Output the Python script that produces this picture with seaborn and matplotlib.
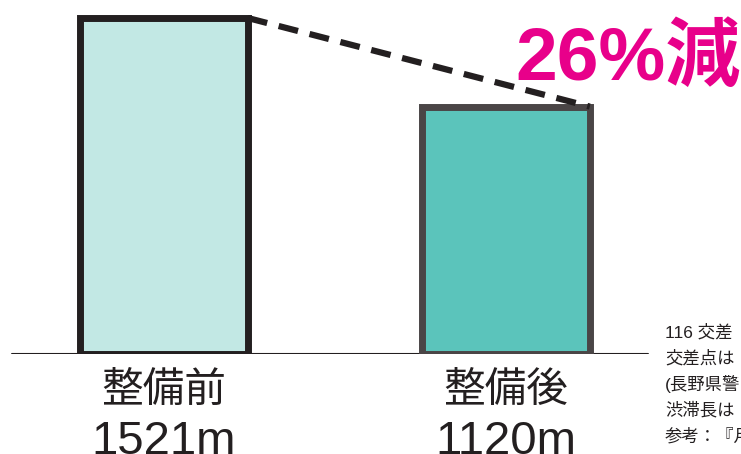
import matplotlib
matplotlib.use("Agg")
import matplotlib.pyplot as plt
import matplotlib.transforms as mtransforms
import seaborn as sns
import pandas as pd

categories = ["整備前", "整備後"]
values = [1521, 1120]
value_labels = ["1521m", "1120m"]
fill_colors = ["#c2e8e4", "#5bc4bb"]
edge_colors = ["#231f20", "#4a4546"]
reduction_label = "26%減"
note_lines = ["116 交差", "交差点は", "(長野県警", "渋滞長は", "参考：『月"]

sns.set_theme(style="white")
plt.rcParams["font.family"] = ["Noto Sans CJK JP", "DejaVu Sans"]

W, H = 741, 454
fig = plt.figure(figsize=(W / 100, H / 100), dpi=100)
# axes: baseline at y=354px, value 1521 at y=18px; x=0 at 164px, 1 unit = 342px
ymax = 1700
ax_h_px = (354 - 18) * ymax / 1521
ax = fig.add_axes([0, (H - 354) / H, 1, ax_h_px / H])

df = pd.DataFrame({"cat": categories, "val": values})
bar_w = 0.49
sns.barplot(data=df, x="cat", y="val", hue="cat", palette=fill_colors,
            saturation=1, width=bar_w, legend=False, ax=ax, zorder=2)
for p, ec in zip(ax.patches, edge_colors):
    p.set_edgecolor(ec)
    p.set_linewidth(5)
    p.set_joinstyle("miter")
ax.set_xlim(-164 / 342, (W - 164) / 342)
ax.set_ylim(0, ymax)
ax.axis("off")

# baseline
ax.axhline(0, xmin=12 / W, xmax=648 / W, color="#231f20", lw=1.5, zorder=1)

# dashed connector between bar top-right corners
xs = [i + bar_w / 2 for i in range(len(values))]
ax.plot(xs, values, color="#231f20", lw=4.5, dashes=(3.2, 1.9),
        solid_capstyle="butt", dash_capstyle="butt", zorder=3, clip_on=False)

# labels under bars
trans = mtransforms.blended_transform_factory(ax.transData, fig.transFigure)
for i, (c, v) in enumerate(zip(categories, value_labels)):
    ax.text(i, (H - 390) / H, c, transform=trans, ha="center", va="center",
            fontsize=30, color="#231f20")
    ax.text(i, (H - 454) / H, v, transform=trans, ha="center", va="baseline",
            fontsize=34, color="#231f20",
            family=["Liberation Sans", "Noto Sans CJK JP"])

# reduction label
fig.text(515 / W, (H - 80) / H, reduction_label, ha="left", va="baseline",
         fontsize=54, fontweight="bold", color="#e8008a",
         family=["Liberation Sans", "Noto Sans CJK JP"])

# notes
for k, line in enumerate(note_lines):
    fig.text(665 / W, (H - (332 + 26 * k)) / H, line, ha="left", va="center",
             fontsize=12.5, color="#231f20",
             family=["Liberation Sans", "Noto Sans CJK JP"])

fig.savefig("out.png", dpi=100)
